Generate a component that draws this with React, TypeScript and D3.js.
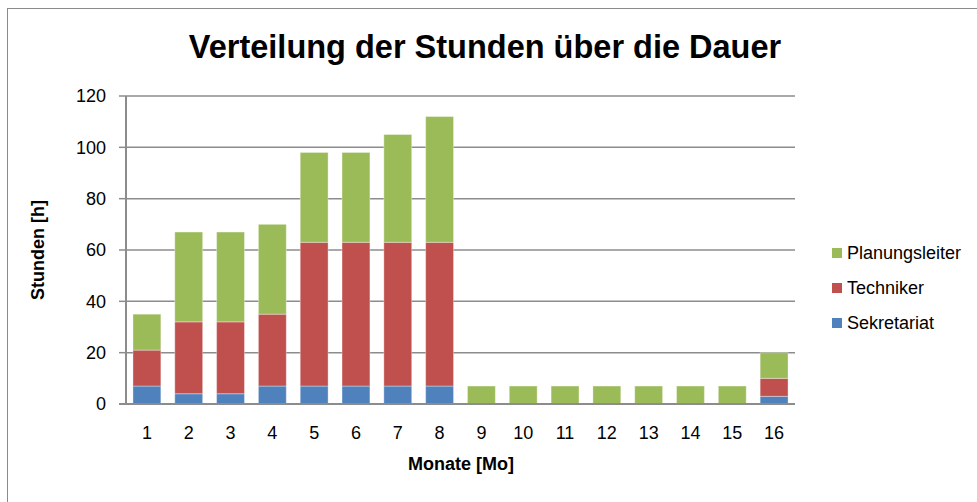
import React from 'react';
import * as d3 from 'd3';

const months = ['1', '2', '3', '4', '5', '6', '7', '8', '9', '10', '11', '12', '13', '14', '15', '16'];
const sekretariat = [7, 4, 4, 7, 7, 7, 7, 7, 0, 0, 0, 0, 0, 0, 0, 3];
const techniker = [14, 28, 28, 28, 56, 56, 56, 56, 0, 0, 0, 0, 0, 0, 0, 7];
const planungsleiter = [14, 35, 35, 35, 35, 35, 42, 49, 7, 7, 7, 7, 7, 7, 7, 10];
const seriesNames = ['Sekretariat', 'Techniker', 'Planungsleiter'];
const seriesColors = ['#4F81BD', '#C0504D', '#9BBB59'];
const yTicks = [0, 20, 40, 60, 80, 100, 120];

const W = 977;
const H = 502;
const font = 'Arial, "Liberation Sans", sans-serif';

const App = () => {
  const left = 126, right = 795, top = 96, bottom = 404;

  const rows = months.map((m, i) => ({
    month: m,
    Sekretariat: sekretariat[i],
    Techniker: techniker[i],
    Planungsleiter: planungsleiter[i],
  }));
  const stacked = d3.stack<any>().keys(seriesNames)(rows);

  const x = d3.scaleBand()
    .domain(months)
    .range([left, right])
    .paddingInner(1 / 3)
    .paddingOuter(1 / 6);
  const y = d3.scaleLinear().domain([0, 120]).range([bottom, top]);

  // legend shows the series in reverse order
  const legend = seriesNames.map((n, i) => ({ name: n, color: seriesColors[i] })).reverse();

  return (
    <svg width={W} height={H} style={{ position: 'absolute', left: 0, top: 0, background: '#fff' }}>
      <rect x={7.5} y={8.5} width={1000} height={600} fill="#fff" stroke="#8a8a8a" strokeWidth={1} />

      <text x={485} y={58} textAnchor="middle" fontFamily={font} fontWeight="bold" fontSize={32.5}>
        Verteilung der Stunden über die Dauer
      </text>

      {/* gridlines */}
      {yTicks.map(t => (
        <g key={t}>
          <line x1={left} x2={right} y1={y(t)} y2={y(t)} stroke="#8c8c8c" strokeWidth={1.5} />
          <line x1={left - 7} x2={left} y1={y(t)} y2={y(t)} stroke="#8c8c8c" strokeWidth={1.5} />
          <text x={106} y={y(t)} dy="0.35em" textAnchor="end" fontFamily={font} fontSize={18}>{t}</text>
        </g>
      ))}

      {/* bars */}
      {stacked.map((s, si) => (
        <g key={s.key} fill={seriesColors[si]}>
          {s.map((d, i) => (
            d[1] - d[0] > 0 ? (
              <rect
                key={i}
                x={x(months[i])}
                y={y(d[1])}
                width={x.bandwidth()}
                height={y(d[0]) - y(d[1])}
                stroke="#ffffff"
                strokeOpacity={0.35}
                strokeWidth={1}
              />
            ) : null
          ))}
        </g>
      ))}

      {/* axes */}
      <line x1={left} x2={left} y1={top} y2={bottom} stroke="#8c8c8c" strokeWidth={2} />
      <line x1={left - 7} x2={right} y1={bottom} y2={bottom} stroke="#8c8c8c" strokeWidth={2} />

      {months.map(m => (
        <text key={m} x={(x(m) ?? 0) + x.bandwidth() / 2} y={439} textAnchor="middle" fontFamily={font} fontSize={18}>{m}</text>
      ))}

      <text x={461} y={470} textAnchor="middle" fontFamily={font} fontWeight="bold" fontSize={18}>Monate [Mo]</text>
      <text transform="translate(44,250) rotate(-90)" textAnchor="middle" fontFamily={font} fontWeight="bold" fontSize={18}>Stunden [h]</text>

      {legend.map((l, i) => (
        <g key={l.name} transform={`translate(832,${248 + i * 35})`}>
          <rect width={10} height={10} fill={l.color} />
          <text x={15} y={5} dy="0.35em" fontFamily={font} fontSize={18}>{l.name}</text>
        </g>
      ))}
    </svg>
  );
};

export default App;
